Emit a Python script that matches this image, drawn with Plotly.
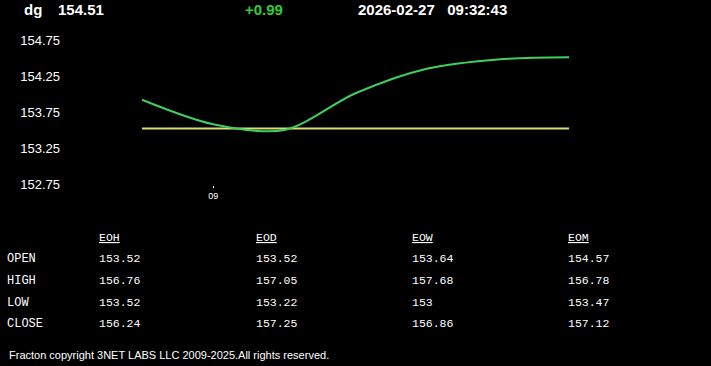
import plotly.graph_objects as go

# ---- data ----
x_idx = [0, 1, 2, 3, 4, 5, 6]
price = [153.92, 153.58, 153.50, 154.01, 154.35, 154.48, 154.51]
open_level = [153.52] * 7
x_tick_vals = [1]
x_tick_text = ["09"]
y_tick_vals = [152.75, 153.25, 153.75, 154.25, 154.75]
y_tick_text = ["152.75", "153.25", "153.75", "154.25", "154.75"]

symbol = "dg"
last_price = "154.51"
change = "+0.99"
stamp = "2026-02-27   09:32:43"

table_cols = ["EOH", "EOD", "EOW", "EOM"]
table_rows = ["OPEN", "HIGH", "LOW", "CLOSE"]
table_vals = [
    ["153.52", "153.52", "153.64", "154.57"],
    ["156.76", "157.05", "157.68", "156.78"],
    ["153.52", "153.22", "153", "153.47"],
    ["156.24", "157.25", "156.86", "157.12"],
]
footer = "Fracton copyright 3NET LABS LLC 2009-2025.All rights reserved."

W, H = 711, 366
fig = go.Figure()
fig.add_trace(go.Scatter(x=x_idx, y=open_level, mode="lines",
                         line=dict(color="#d8e070", width=2), hoverinfo="skip"))
fig.add_trace(go.Scatter(x=x_idx, y=price, mode="lines",
                         line=dict(color="#3fcf5f", width=2, shape="spline", smoothing=0.9),
                         hoverinfo="skip"))

# plot area pixel geometry
pl, pr, pt, pb = 130, 580, 22, 185
px_per_idx = (569 - 142) / 6
x0 = -(142 - pl) / px_per_idx
x1 = 6 + (pr - 569) / px_per_idx
ppu = 72.0
ytop = 154.75 + (40 - pt) / ppu
ybot = 154.75 - (pb - 40) / ppu

fig.update_layout(
    width=W, height=H,
    margin=dict(l=pl, r=W - pr, t=pt, b=H - pb),
    paper_bgcolor="black", plot_bgcolor="black",
    showlegend=False,
    xaxis=dict(range=[x0, x1], showgrid=False, zeroline=False, showline=False,
               tickvals=x_tick_vals, ticktext=x_tick_text, ticks="outside",
               ticklen=2, tickwidth=1, tickcolor="white",
               tickfont=dict(family="Arial, Liberation Sans", size=9, color="white")),
    yaxis=dict(range=[ybot, ytop], showgrid=False, zeroline=False, showline=False,
               tickvals=y_tick_vals, ticktext=y_tick_text, ticks="",
               ticklabelstandoff=69,
               tickfont=dict(family="Arial, Liberation Sans", size=13, color="white")),
)

def ann(x, y, text, size, color="white", family="Arial, Liberation Sans", bold=False):
    t = f"<b>{text}</b>" if bold else text
    fig.add_annotation(x=(x - pl) / (pr - pl), y=(pb - y) / (pb - pt),
                       xref="paper", yref="paper",
                       text=t, showarrow=False, xanchor="left", yanchor="middle",
                       borderpad=0,
                       font=dict(family=family, size=size, color=color))

ann(23, 10, symbol, 15, bold=True)
ann(57, 10, last_price, 15, bold=True)
ann(244, 10, change, 15, color="#33cc33", bold=True)
ann(357, 10, stamp, 15, bold=True)

mono = "Liberation Mono, DejaVu Sans Mono"
col_x = [98, 255, 411, 567]
row_y = [259, 281, 303, 324]
for cx, c in zip(col_x, table_cols):
    ann(cx, 238, f"<u>{c}</u>", 11.5, family=mono)
for ry, r in zip(row_y, table_rows):
    ann(6, ry, r, 12, family=mono)
for ri, ry in enumerate(row_y):
    for ci, cx in enumerate(col_x):
        ann(cx, ry - 1, table_vals[ri][ci], 11.5, family=mono)

ann(8, 355, footer, 11)

fig.write_html("out.html")
